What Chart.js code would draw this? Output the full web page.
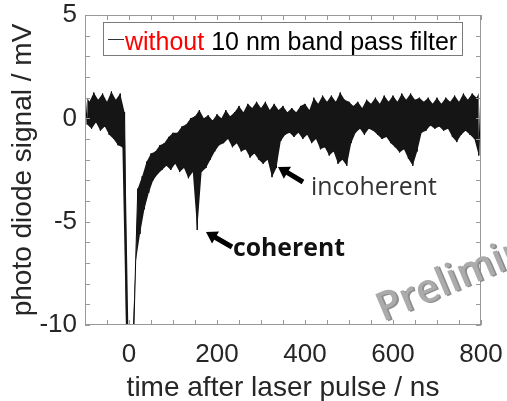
<!DOCTYPE html>
<html>
<head>
<meta charset="utf-8">
<script src="https://cdn.jsdelivr.net/npm/chart.js@4/dist/chart.umd.min.js"></script>
<style>
  html, body { margin: 0; padding: 0; background: #fff; }
  canvas { display: block; }
</style>
</head>
<body>
<canvas id="myChart" width="507" height="401"></canvas>
<script>
// photo diode trace, every 5 ns (upper / lower edge of the noise band)
var tStart = -100;
var tStep = 5;
var signal = [
  1.2, -0.3, 0.8, -0.5, 1.25, -0.2, 0.9, -0.6, 1.2, -0.4,
  0.8, -0.8, 1.3, -1.0, 0.9, -1.3, 1.2, -1.4, 0.3, -12,
  -12, -12, -11, -7.0, -3.4, -5.6, -2.8, -4.4, -2.1, -3.6,
  -1.7, -3.0, -1.6, -2.7, -1.3, -2.5, -1.2, -2.3, -0.9, -2.5,
  -0.7, -2.2, -0.7, -2.6, -0.4, -2.4, -0.3, -2.9, 0.0, -2.6,
  0.1, -5.4, 0.4, -2.6, 0.0, -2.4, 0.15, -2.0, -0.1, -1.6,
  0.2, -1.3, 0.0, -1.2, 0.4, -1.0, 0.1, -1.4, 0.3, -1.2,
  0.6, -1.6, 0.3, -1.5, 0.7, -1.9, 0.5, -1.7, 0.8, -2.0,
  0.5, -2.2, 0.8, -2.0, 0.4, -2.85, 0.7, -2.4, 0.4, -1.1,
  0.6, -0.8, 0.3, -0.7, 0.5, -0.9, 0.3, -0.7, 0.6, -1.0,
  0.7, -0.8, 0.4, -1.2, 1.0, -1.0, 0.7, -1.5, 1.1, -1.4,
  0.8, -1.8, 1.1, -1.6, 0.8, -2.2, 1.25, -2.0, 0.9, -2.3,
  0.8, -1.2, 0.6, -0.7, 0.8, -0.5, 0.5, -0.8, 0.9, -0.5,
  0.7, -0.6, 1.0, -0.8, 0.7, -1.0, 1.1, -0.9, 0.8, -1.2,
  1.1, -1.4, 0.8, -1.65, 1.2, -1.5, 0.9, -1.95, 1.2, -2.3,
  0.9, -1.6, 1.0, -0.7, 0.8, -0.6, 1.0, -0.35, 0.7, -0.5,
  1.0, -0.4, 0.7, -0.6, 1.0, -0.5, 0.8, -0.9, 1.1, -1.15,
  0.8, -0.8, 1.2, -0.6, 0.9, -0.8, 1.2, -1.0, 1.0, -1.8,
  1.45
];
var xTickLabels = [0, 200, 400, 600, 800];
var yTickLabels = [-10, -5, 0, 5];

var points = signal.map(function (v, i) {
  return { x: tStart + i * tStep, y: v };
});
// upper and lower edge of the band, so the space between can be filled
var upper = points.filter(function (p, i) { return i % 2 === 0; });
var lower = points.filter(function (p, i) { return i % 2 === 1; });

var FONT = "'Liberation Sans', Arial, sans-serif";
var TXT = '#262626';
var AXIS = '#999999';

function arrow(ctx, x1, y1, x2, y2) {
  var a = Math.atan2(y2 - y1, x2 - x1);
  var len = Math.hypot(x2 - x1, y2 - y1);
  ctx.save();
  ctx.translate(x1, y1);
  ctx.rotate(a);
  ctx.fillStyle = '#000';
  ctx.beginPath();
  ctx.moveTo(0, -2.5);
  ctx.lineTo(len - 11, -2.5);
  ctx.lineTo(len - 11, -7);
  ctx.lineTo(len, 0);
  ctx.lineTo(len - 11, 7);
  ctx.lineTo(len - 11, 2.5);
  ctx.lineTo(0, 2.5);
  ctx.closePath();
  ctx.fill();
  ctx.restore();
}

function fitFont(ctx, text, weight, family, width) {
  ctx.font = weight + ' 100px ' + family;
  return 100 * width / ctx.measureText(text).width;
}

var decor = {
  id: 'decor',
  afterDatasetsDraw: function (chart) {
    var ctx = chart.ctx, a = chart.chartArea;
    var xs = chart.scales.x, ys = chart.scales.y;
    ctx.save();
    ctx.strokeStyle = AXIS;
    ctx.lineWidth = 1;
    ctx.strokeRect(a.left + 0.5, a.top + 0.5, a.right - a.left - 1, a.bottom - a.top - 1);
    ctx.beginPath();
    xs.ticks.forEach(function (t) {
      var px = Math.round(xs.getPixelForValue(t.value)) + 0.5;
      ctx.moveTo(px, a.bottom); ctx.lineTo(px, a.bottom - 5);
      ctx.moveTo(px, a.top); ctx.lineTo(px, a.top + 5);
    });
    ys.ticks.forEach(function (t) {
      var py = Math.round(ys.getPixelForValue(t.value)) + 0.5;
      ctx.moveTo(a.left, py); ctx.lineTo(a.left + 5, py);
      ctx.moveTo(a.right, py); ctx.lineTo(a.right - 5, py);
    });
    ctx.stroke();
    ctx.restore();
  },
  afterDraw: function (chart) {
    var ctx = chart.ctx, a = chart.chartArea;
    ctx.save();

    // axis titles
    ctx.fillStyle = TXT;
    ctx.font = '28px ' + FONT;
    ctx.textAlign = 'center';
    ctx.textBaseline = 'alphabetic';
    ctx.fillText('time after laser pulse / ns', (a.left + a.right) / 2, 396);
    ctx.save();
    ctx.translate(31, (a.top + a.bottom) / 2);
    ctx.rotate(-Math.PI / 2);
    ctx.fillText('photo diode signal / mV', 0, 0);
    ctx.restore();

    // legend
    ctx.fillStyle = '#fff';
    ctx.fillRect(103.5, 22.5, 359, 33);
    ctx.strokeStyle = '#7a7a7a';
    ctx.lineWidth = 1;
    ctx.strokeRect(103.5, 22.5, 359, 33);
    ctx.strokeStyle = '#333';
    ctx.beginPath();
    ctx.moveTo(108, 39.5); ctx.lineTo(124, 39.5);
    ctx.stroke();
    ctx.font = '25px ' + FONT;
    ctx.textAlign = 'left';
    ctx.fillStyle = '#ff0000';
    ctx.fillText('without', 125, 50);
    var w = ctx.measureText('without ').width;
    ctx.fillStyle = '#000';
    ctx.fillText('10 nm band pass filter', 125 + w, 50);

    // notes
    var s1 = fitFont(ctx, 'incoherent', '400', "'Open Sans'", 126);
    ctx.font = '400 ' + s1 + "px 'Open Sans'";
    ctx.fillStyle = '#333';
    ctx.fillText('incoherent', 311, 195);
    var s2 = fitFont(ctx, 'coherent', '700', "'Open Sans'", 112);
    ctx.font = '700 ' + s2 + "px 'Open Sans'";
    ctx.fillStyle = '#111';
    ctx.fillText('coherent', 233, 256);
    arrow(ctx, 303, 182, 278, 167);
    arrow(ctx, 232, 247, 206, 232);

    // watermark
    var s3 = fitFont(ctx, 'Prelim', '600', "'Open Sans'", 125);
    ctx.translate(383, 322);
    ctx.rotate(-23 * Math.PI / 180);
    ctx.font = '600 ' + s3 + "px 'Open Sans'";
    ctx.fillStyle = '#8c8c8c';
    ctx.fillText('Preliminary', 1.5, 1.5);
    ctx.fillStyle = '#ababab';
    ctx.fillText('Preliminary', 0, 0);
    ctx.restore();
  }
};

function noPad(s) {
  s.paddingLeft = 0; s.paddingRight = 0; s.paddingTop = 0; s.paddingBottom = 0;
}

new Chart('myChart', {
  type: 'line',
  data: {
    datasets: [{
      data: upper,
      borderWidth: 0,
      pointRadius: 0,
      fill: false
    }, {
      data: lower,
      borderWidth: 0,
      pointRadius: 0,
      fill: '-1',
      backgroundColor: '#151515'
    }, {
      data: points,
      borderColor: '#000',
      borderWidth: 1,
      pointRadius: 0,
      tension: 0
    }]
  },
  options: {
    responsive: false,
    animation: false,
    devicePixelRatio: 1,
    layout: { padding: { left: 0, right: 26, top: 15, bottom: 0 } },
    plugins: { legend: { display: false }, tooltip: { enabled: false } },
    scales: {
      x: {
        type: 'linear',
        min: -100,
        max: 800,
        grid: { display: false },
        border: { display: false },
        afterFit: function (s) { s.height = 76; noPad(s); },
        ticks: {
          stepSize: 50,
          autoSkip: false,
          maxRotation: 0,
          padding: 6,
          color: TXT,
          font: { family: FONT, size: 26 },
          callback: function (v) {
            return xTickLabels.indexOf(Math.round(v)) >= 0 ? String(Math.round(v)) : '';
          }
        }
      },
      y: {
        min: -10,
        max: 5,
        grid: { display: false },
        border: { display: false },
        afterFit: function (s) { s.width = 85; noPad(s); },
        ticks: {
          stepSize: 1,
          autoSkip: false,
          padding: 0,
          color: TXT,
          font: { family: FONT, size: 26 },
          callback: function (v) {
            return yTickLabels.indexOf(Math.round(v)) >= 0 ? String(Math.round(v)) : '';
          }
        }
      }
    }
  },
  plugins: [decor]
});
</script>
</body>
</html>
